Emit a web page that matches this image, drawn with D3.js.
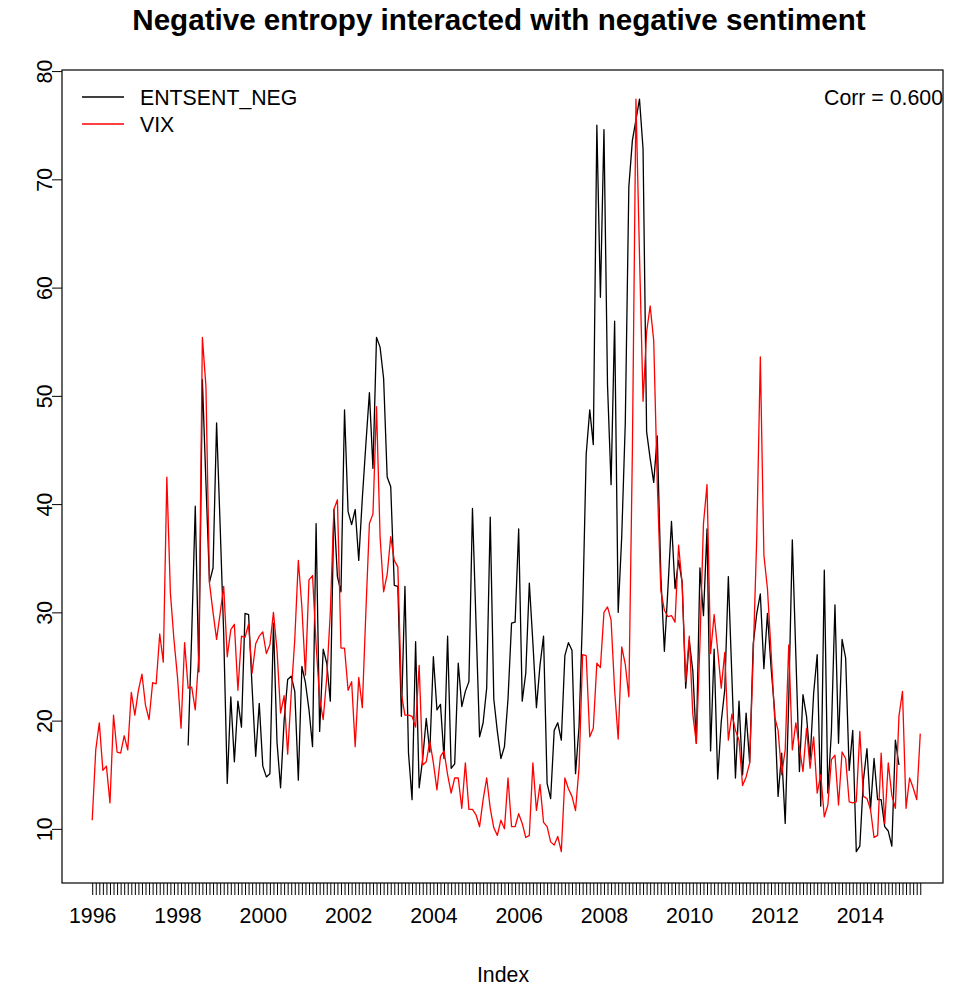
<!DOCTYPE html>
<html>
<head>
<meta charset="utf-8">
<script src="https://cdn.jsdelivr.net/npm/d3@7"></script>
<style>
  html, body { margin: 0; padding: 0; background: #fff; }
  svg { display: block; font-family: "Liberation Sans", Arial, Helvetica, sans-serif; }
</style>
</head>
<body>
<svg id="chart" width="953" height="989"></svg>
<script>
// Monthly series, first month = January 1996 (index 0)
const startYear = 1996;

const vix = [
  10.8, 17.3, 19.8, 15.4, 15.8, 12.4, 20.5, 17.1, 17.0, 18.6, 17.3, 22.6,
  20.5, 22.8, 24.3, 21.4, 20.1, 23.5, 23.4, 28.0, 25.4, 42.5, 31.8, 27.5,
  24.0, 19.3, 27.2, 23.0, 23.1, 21.0, 26.0, 55.4, 50.9, 32.7, 30.0, 27.5,
  29.9, 32.4, 25.9, 28.4, 28.9, 22.8, 27.8, 27.7, 28.9, 24.4, 27.1, 27.8,
  28.2, 26.2, 27.0, 30.0, 26.5, 20.7, 22.3, 16.9, 22.5, 27.5, 34.8, 30.5,
  24.2, 33.0, 33.4, 27.0, 22.0, 20.1, 24.0, 30.0, 39.5, 40.4, 26.7, 26.7,
  22.8, 23.6, 17.6, 24.0, 21.2, 30.0, 38.2, 39.1, 49.0, 37.0, 31.9, 33.5,
  37.0, 34.8, 34.2, 22.5, 20.5, 20.5, 20.4, 19.4, 25.1, 15.9, 16.2, 18.1,
  16.1, 13.6, 16.7, 17.2, 15.0, 13.3, 14.7, 14.7, 11.9, 16.1, 11.8, 11.8,
  11.3, 10.2, 12.7, 14.7, 11.9, 10.1, 9.4, 10.8, 10.0, 14.7, 10.2, 10.2,
  11.4, 10.5, 9.2, 9.4, 16.1, 11.7, 14.1, 10.6, 10.2, 8.8, 8.5, 9.3,
  7.9, 14.7, 13.7, 13.0, 11.7, 15.7, 26.1, 26.0, 18.5, 19.3, 25.3, 24.9,
  30.0, 30.5, 29.3, 22.8, 18.3, 26.8, 25.2, 22.2, 45.0, 77.4, 63.0, 49.5,
  55.9, 58.3, 55.1, 42.0, 32.0, 30.2, 29.6, 29.7, 29.1, 36.2, 32.6, 23.6,
  27.8, 20.6, 17.9, 27.0, 38.2, 41.8, 26.2, 29.8, 26.5, 23.0, 26.3, 18.2,
  20.6, 19.1, 18.2, 14.0, 14.8, 16.1, 26.0, 37.0, 53.6, 35.3, 32.2, 26.5,
  20.4, 19.1, 15.0, 17.3, 27.0, 17.3, 19.8, 17.5, 15.3, 19.3, 15.6, 18.5,
  13.3, 15.0, 11.1, 12.2, 16.4, 16.8, 12.2, 17.1, 16.5, 12.5, 12.4, 12.5,
  19.0, 13.0, 12.8, 11.8, 9.2, 9.4, 17.0, 10.5, 16.1, 13.1, 11.9, 20.4,
  22.7, 11.9, 14.7, 13.8, 12.7, 18.8
];

// ENTSENT_NEG starts April 1998 (month index 27)
const entStart = 27;
const entsentNeg = [
  17.7, 28.0, 39.8, 24.5, 51.5, 42.0, 32.8, 34.1, 47.5,
  38.0, 28.0, 14.2, 22.2, 16.2, 21.8, 19.4, 29.9, 29.8, 23.0, 16.7, 21.6,
  15.8, 14.8, 15.1, 29.0, 18.0, 13.8, 20.0, 23.8, 24.1, 22.7, 14.5, 25.0,
  23.5, 21.0, 17.6, 38.2, 19.0, 26.6, 25.3, 21.8, 39.5, 33.3, 31.9, 48.7,
  39.3, 38.1, 39.5, 34.8, 40.5, 45.5, 50.3, 43.3, 55.4, 54.5, 51.6, 42.5,
  41.6, 32.5, 32.4, 20.4, 32.4, 17.0, 12.7, 27.3, 13.8, 16.5, 20.2, 17.1,
  25.9, 21.0, 21.5, 16.5, 27.8, 15.6, 16.0, 25.3, 21.3, 22.7, 23.6, 39.6,
  29.0, 18.5, 19.8, 23.0, 38.8, 22.0, 19.0, 16.5, 17.6, 22.0, 29.0, 29.1,
  37.7, 21.8, 24.4, 32.7, 27.2, 21.2, 25.1, 27.8, 14.2, 12.8, 19.1, 19.8,
  18.2, 26.0, 27.2, 26.5, 15.1, 19.5, 30.0, 44.6, 48.7, 45.5, 75.0, 59.1,
  74.6, 51.0, 41.8, 56.9, 30.0, 37.0, 47.5, 69.3, 73.6, 75.5, 77.4, 72.8,
  46.7, 44.2, 42.0, 46.3, 33.4, 26.4, 32.2, 38.4, 32.2, 34.8, 32.8, 23.0,
  27.4, 24.6, 17.9, 34.1, 29.7, 37.7, 17.2, 26.6, 14.6, 19.9, 22.9, 33.3,
  24.0, 14.7, 21.8, 15.0, 20.7, 16.1, 27.1, 29.9, 31.7, 24.8, 29.9, 25.0,
  21.0, 13.0, 17.0, 10.5, 22.0, 36.7, 26.0, 15.3, 22.4, 20.4, 16.4, 22.5,
  26.1, 12.1, 33.9, 13.3, 19.0, 30.7, 17.9, 27.5, 25.8, 15.4, 19.1, 7.9,
  8.4, 14.5, 17.4, 11.8, 16.5, 12.7, 12.7, 10.2, 9.8, 8.4, 18.2, 15.9
];

const yTicks = [10, 20, 30, 40, 50, 60, 70, 80];
const legendLabels = ["ENTSENT_NEG", "VIX"];
const seriesColors = ["#000000", "#ff0000"];
const corrText = "Corr = 0.600";
const titleText = "Negative entropy interacted with negative sentiment";

const fontSize = 21.3;
const svg = d3.select("#chart");
const box = { left: 62, right: 943, top: 70, bottom: 883 };

const x = d3.scaleLinear().domain([-8.5, 239.4]).range([box.left, box.right]);
const y = d3.scaleLinear().domain([5.0, 80.1]).range([box.bottom, box.top]);

const vixData = vix.map((v, i) => ({ i, v }));
const entData = entsentNeg.map((v, k) => ({ i: k + entStart, v }));

const line = d3.line().x(d => x(d.i)).y(d => y(d.v));

// series
svg.append("path").datum(entData)
  .attr("d", line).attr("fill", "none")
  .attr("stroke", seriesColors[0]).attr("stroke-width", 1.3)
  .attr("stroke-linejoin", "round");
svg.append("path").datum(vixData)
  .attr("d", line).attr("fill", "none")
  .attr("stroke", seriesColors[1]).attr("stroke-width", 1.3)
  .attr("stroke-linejoin", "round");

// plot frame
svg.append("rect")
  .attr("x", box.left).attr("y", box.top)
  .attr("width", box.right - box.left).attr("height", box.bottom - box.top)
  .attr("fill", "none").attr("stroke", "#000").attr("stroke-width", 1.2);

// y axis
const yAxis = d3.axisLeft(y).tickValues(yTicks).tickSize(10).tickPadding(0).tickFormat(d3.format("d"));
const gy = svg.append("g").attr("transform", `translate(${box.left},0)`).call(yAxis);
gy.select(".domain").remove();
gy.selectAll(".tick line").attr("stroke", "#000").attr("stroke-width", 1);
gy.selectAll(".tick text")
  .attr("font-size", fontSize).attr("fill", "#000")
  .attr("text-anchor", "middle")
  .attr("transform", "translate(-10,0) rotate(-90)")
  .attr("x", 0).attr("dy", "0");

// x axis: one tick per month, labels every second January
const monthTicks = d3.range(vix.length);
const xAxis = d3.axisBottom(x).tickValues(monthTicks).tickSize(12).tickPadding(13)
  .tickFormat(i => (i % 24 === 0) ? String(startYear + i / 12) : "");
const gx = svg.append("g").attr("transform", `translate(0,${box.bottom})`).call(xAxis);
gx.select(".domain").remove();
gx.selectAll(".tick line").attr("stroke", "#000").attr("stroke-width", 1);
gx.selectAll(".tick text").attr("font-size", fontSize).attr("fill", "#000");

// titles
svg.append("text").attr("x", 499).attr("y", 30).attr("text-anchor", "middle")
  .attr("font-size", 29.6).attr("font-weight", "bold").text(titleText);
svg.append("text").attr("x", 503).attr("y", 982).attr("text-anchor", "middle")
  .attr("font-size", fontSize).text("Index");

// legend
const legend = svg.append("g");
legendLabels.forEach((lab, k) => {
  const ly = 97 + k * 27;
  legend.append("line").attr("x1", 82).attr("x2", 124).attr("y1", ly).attr("y2", ly)
    .attr("stroke", seriesColors[k]).attr("stroke-width", 1.3);
  legend.append("text").attr("x", 140).attr("y", ly + 7.5).attr("font-size", fontSize).text(lab);
});

// correlation note
svg.append("text").attr("x", 943).attr("y", 104.5).attr("text-anchor", "end")
  .attr("font-size", fontSize).text(corrText);
</script>
</body>
</html>
